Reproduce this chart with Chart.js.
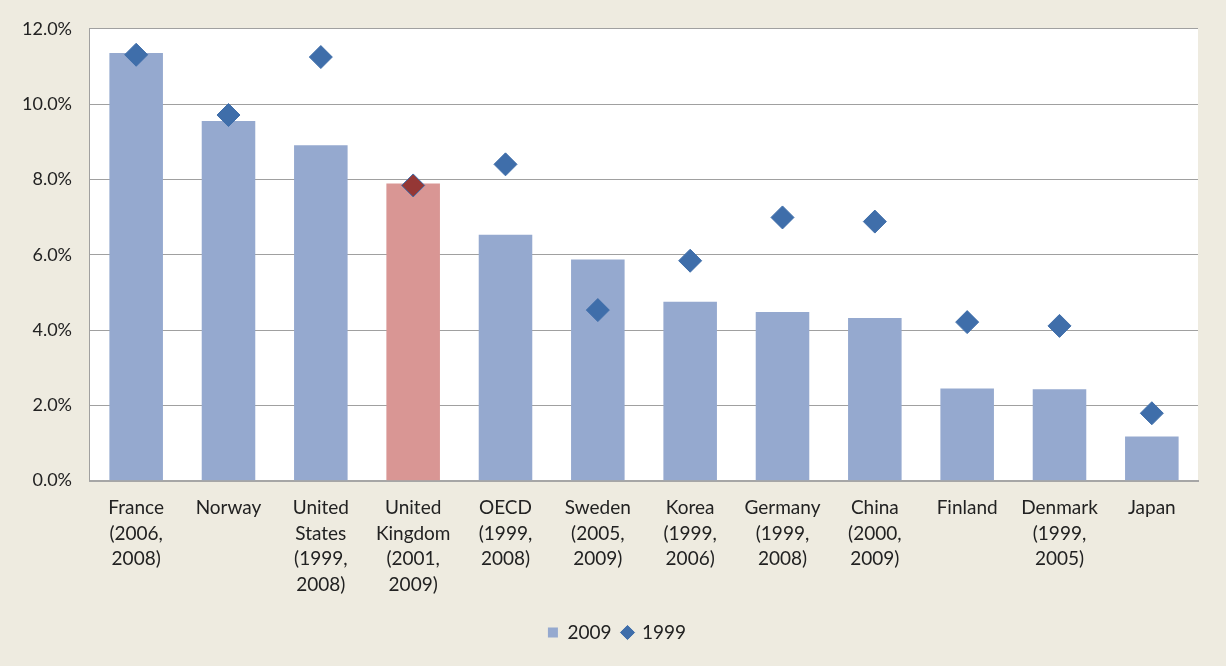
<!DOCTYPE html>
<html>
<head>
<meta charset="utf-8">
<script src="https://cdn.jsdelivr.net/npm/chart.js@4/dist/chart.umd.min.js"></script>
<style>
  html, body { margin: 0; padding: 0; background: #EEEBE0; }
  #wrap { width: 1226px; height: 666px; }
</style>
</head>
<body>
<div id="wrap"><canvas id="chart" width="1226" height="666"></canvas></div>
<script>
// 国家标签（多行）
const countries = [
  ['France', '(2006,', '2008)'],
  ['Norway'],
  ['United', 'States', '(1999,', '2008)'],
  ['United', 'Kingdom', '(2001,', '2009)'],
  ['OECD', '(1999,', '2008)'],
  ['Sweden', '(2005,', '2009)'],
  ['Korea', '(1999,', '2006)'],
  ['Germany', '(1999,', '2008)'],
  ['China', '(2000,', '2009)'],
  ['Finland'],
  ['Denmark', '(1999,', '2005)'],
  ['Japan']
];

// 2009 数值（柱状）
const values2009 = [11.36, 9.55, 8.91, 7.89, 6.53, 5.87, 4.75, 4.48, 4.32, 2.45, 2.43, 1.17];
// 1999 数值（菱形点）
const values1999 = [11.31, 9.71, 11.25, 7.84, 8.40, 4.53, 5.84, 6.99, 6.88, 4.21, 4.11, 1.79];

const yTicks = [0, 2, 4, 6, 8, 10, 12];

const barBlue = '#95A9CF';
const barRed = '#D99694';
const diamondBlue = '#3F6EAA';
const diamondRed = '#953735';

const highlight = 3; // United Kingdom

const barColors = values2009.map((v, i) => i === highlight ? barRed : barBlue);
const pointColors = values1999.map((v, i) => i === highlight ? diamondRed : diamondBlue);

// 绘图区白色背景，图例大致居中于画布
const plotBg = {
  id: 'plotBg',
  afterLayout(chart) {
    const lg = chart.legend;
    if (lg) {
      const shift = (chart.width / 2 + 4) - (lg.left + lg.right) / 2;
      lg.left += shift;
      lg.right += shift;
    }
  },
  beforeDraw(chart) {
    const { ctx, chartArea: a } = chart;
    ctx.save();
    ctx.fillStyle = '#EEEBE0';
    ctx.fillRect(0, 0, chart.width, chart.height);
    ctx.fillStyle = '#FFFFFF';
    ctx.fillRect(a.left, a.top, a.right - a.left, a.bottom - a.top);
    ctx.restore();
  }
};

Chart.defaults.font.family = 'Lato, "Open Sans", sans-serif';
Chart.defaults.color = '#222222';

new Chart(document.getElementById('chart'), {
  type: 'bar',
  data: {
    labels: countries,
    datasets: [
      {
        type: 'bar',
        label: '2009',
        data: values2009,
        backgroundColor: barColors,
        borderWidth: 0,
        categoryPercentage: 1.0,
        barPercentage: 0.58,
        pointStyle: 'rect',
        order: 2
      },
      {
        type: 'line',
        label: '1999',
        data: values1999,
        showLine: false,
        pointStyle: 'rectRot',
        pointRadius: 11.5,
        pointHoverRadius: 11.5,
        pointBackgroundColor: pointColors,
        pointBorderColor: diamondBlue,
        pointBorderWidth: 1,
        backgroundColor: diamondBlue,
        borderColor: diamondBlue,
        order: 1
      }
    ]
  },
  options: {
    responsive: false,
    animation: false,
    layout: { padding: { left: 4, right: 28, top: 25, bottom: 14 } },
    scales: {
      x: {
        grid: { display: false, drawTicks: false },
        border: { color: '#A6A6A6', width: 2 },
        ticks: {
          font: { size: 19, lineHeight: 1.36 },
          color: '#222222',
          padding: 14,
          maxRotation: 0,
          autoSkip: false
        }
      },
      y: {
        min: 0,
        max: 12,
        afterBuildTicks(axis) {
          axis.ticks = yTicks.map(v => ({ value: v }));
        },
        grid: { color: '#A0A0A0', lineWidth: 1, drawTicks: false },
        border: { color: '#A0A0A0', width: 1 },
        ticks: {
          font: { size: 18 },
          color: '#222222',
          padding: 18,
          callback: v => v.toFixed(1) + '%'
        }
      }
    },
    plugins: {
      legend: {
        position: 'bottom',
        labels: {
          usePointStyle: true,
          boxWidth: 10,
          boxHeight: 10,
          padding: 11,
          font: { size: 19 },
          color: '#222222',
          sort: (a, b) => a.datasetIndex - b.datasetIndex
        }
      },
      tooltip: { enabled: false }
    }
  },
  plugins: [plotBg]
});
</script>
</body>
</html>
